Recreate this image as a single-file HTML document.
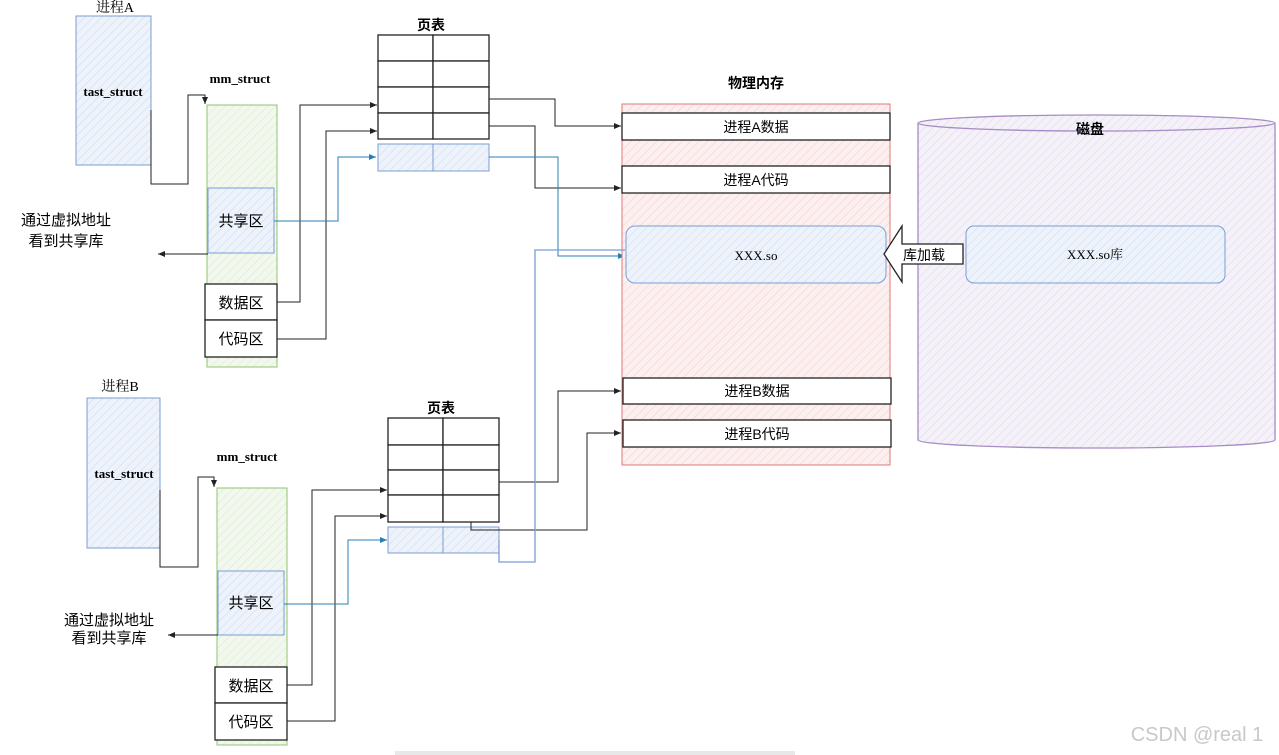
<!DOCTYPE html>
<html><head><meta charset="utf-8"><style>
html,body{margin:0;padding:0;background:#fff;}
svg{display:block;}
text{font-family:"Liberation Sans","Noto Sans CJK SC",sans-serif;}
.serif{font-family:"Liberation Serif","Noto Serif CJK SC",serif;}
</style></head><body>
<svg width="1279" height="755" viewBox="0 0 1279 755" xmlns="http://www.w3.org/2000/svg">
<defs>
<pattern id="hb" width="6" height="6" patternUnits="userSpaceOnUse" patternTransform="rotate(45)"><rect width="6" height="6" fill="#eef3fb"/><line x1="0" y1="0" x2="0" y2="6" stroke="#c9d8ef" stroke-width="1"/></pattern>
<pattern id="hg" width="6" height="6" patternUnits="userSpaceOnUse" patternTransform="rotate(45)"><rect width="6" height="6" fill="#f3f8ef"/><line x1="0" y1="0" x2="0" y2="6" stroke="#d6e8cb" stroke-width="1"/></pattern>
<pattern id="hr" width="6" height="6" patternUnits="userSpaceOnUse" patternTransform="rotate(45)"><rect width="6" height="6" fill="#fcefef"/><line x1="0" y1="0" x2="0" y2="6" stroke="#f5cccc" stroke-width="1"/></pattern>
<pattern id="hp" width="6" height="6" patternUnits="userSpaceOnUse" patternTransform="rotate(45)"><rect width="6" height="6" fill="#f4f1f8"/><line x1="0" y1="0" x2="0" y2="6" stroke="#ddd5ea" stroke-width="1"/></pattern>
<marker id="ak" markerWidth="8" markerHeight="8" refX="7" refY="4" orient="auto" markerUnits="userSpaceOnUse"><path d="M0,1 L7,4 L0,7 z" fill="#222"/></marker>
<marker id="ab" markerWidth="8" markerHeight="8" refX="7" refY="4" orient="auto" markerUnits="userSpaceOnUse"><path d="M0,1 L7,4 L0,7 z" fill="#2a7fb0"/></marker>
</defs>

<!-- Process A -->
<text x="115" y="12" font-size="14" text-anchor="middle" class="serif">进程A</text>
<rect x="76" y="16" width="75" height="149" fill="url(#hb)" stroke="#7a9dd4"/>
<text x="113" y="96" font-size="13" font-weight="bold" text-anchor="middle" class="serif">tast_struct</text>
<path d="M151,110 V184 H188 V95 H205 V104" fill="none" stroke="#222" marker-end="url(#ak)"/>
<text x="240" y="83" font-size="13" font-weight="bold" text-anchor="middle" class="serif">mm_struct</text>
<rect x="207" y="105" width="70" height="262" fill="url(#hg)" stroke="#8cc46e"/>
<rect x="208" y="188" width="66" height="65" fill="url(#hb)" stroke="#7a9dd4"/>
<text x="241" y="226" font-size="15" text-anchor="middle">共享区</text>
<rect x="205" y="284" width="72" height="36" fill="#fff" stroke="#222" stroke-width="1.3"/>
<text x="241" y="308" font-size="15" text-anchor="middle">数据区</text>
<rect x="205" y="320" width="72" height="37" fill="#fff" stroke="#222" stroke-width="1.3"/>
<text x="241" y="344" font-size="15" text-anchor="middle">代码区</text>
<text x="66" y="225" font-size="15" text-anchor="middle">通过虚拟地址</text>
<text x="66" y="246" font-size="15" text-anchor="middle">看到共享库</text>
<path d="M208,254 H158" fill="none" stroke="#222" marker-end="url(#ak)"/>

<!-- Page table A -->
<text x="431" y="30" font-size="14" font-weight="bold" text-anchor="middle">页表</text>
<g fill="#fff" stroke="#222" stroke-width="1.3">
<rect x="378" y="35" width="55" height="26"/><rect x="433" y="35" width="56" height="26"/>
<rect x="378" y="61" width="55" height="26"/><rect x="433" y="61" width="56" height="26"/>
<rect x="378" y="87" width="55" height="26"/><rect x="433" y="87" width="56" height="26"/>
<rect x="378" y="113" width="55" height="26"/><rect x="433" y="113" width="56" height="26"/>
</g>
<rect x="378" y="144" width="55" height="27" fill="url(#hb)" stroke="#7a9dd4"/>
<rect x="433" y="144" width="56" height="27" fill="url(#hb)" stroke="#7a9dd4"/>
<path d="M277,302 H300 V105 H377" fill="none" stroke="#222" marker-end="url(#ak)"/>
<path d="M277,339 H326 V131 H377" fill="none" stroke="#222" marker-end="url(#ak)"/>
<path d="M274,221 H338 V157 H376" fill="none" stroke="#2a7fb0" marker-end="url(#ab)"/>
<path d="M489,99 H555 V126 H621" fill="none" stroke="#222" marker-end="url(#ak)"/>
<path d="M489,126 H535 V188 H621" fill="none" stroke="#222" marker-end="url(#ak)"/>
<path d="M489,157 H558 V256 H625" fill="none" stroke="#2a7fb0" marker-end="url(#ab)"/>

<!-- Physical memory -->
<text x="756" y="88" font-size="14" font-weight="bold" text-anchor="middle">物理内存</text>
<rect x="622" y="104" width="268" height="361" fill="url(#hr)" stroke="#e07a7a"/>
<rect x="622" y="113" width="268" height="27" fill="#fff" stroke="#222" stroke-width="1.3"/>
<text x="756" y="132" font-size="14" text-anchor="middle">进程A数据</text>
<rect x="622" y="166" width="268" height="27" fill="#fff" stroke="#222" stroke-width="1.3"/>
<text x="756" y="185" font-size="14" text-anchor="middle">进程A代码</text>
<rect x="626" y="226" width="260" height="57" rx="9" fill="url(#hb)" stroke="#7a9dd4"/>
<text x="756" y="260" font-size="13" text-anchor="middle" class="serif">XXX.so</text>
<rect x="623" y="378" width="268" height="26" fill="#fff" stroke="#222" stroke-width="1.3"/>
<text x="757" y="396" font-size="14" text-anchor="middle">进程B数据</text>
<rect x="623" y="420" width="268" height="27" fill="#fff" stroke="#222" stroke-width="1.3"/>
<text x="757" y="439" font-size="14" text-anchor="middle">进程B代码</text>

<!-- Disk -->
<path d="M918,123 V440 A178.5,8 0 0 0 1275,440 V123" fill="url(#hp)" stroke="#a88bc4" stroke-width="1.3"/>
<ellipse cx="1096.5" cy="123" rx="178.5" ry="8" fill="url(#hp)" stroke="#a88bc4" stroke-width="1.3"/>
<text x="1090" y="134" font-size="14" font-weight="bold" text-anchor="middle">磁盘</text>
<rect x="966" y="226" width="259" height="57" rx="8" fill="url(#hb)" stroke="#7a9dd4"/>
<text x="1095" y="259" font-size="13" text-anchor="middle" class="serif">XXX.so库</text>
<path d="M884,254 L902,226 V244 H963 V264 H902 V282 Z" fill="#fff" stroke="#222" stroke-width="1.3"/>
<text x="924" y="260" font-size="14" text-anchor="middle">库加载</text>

<!-- Process B -->
<text x="120" y="391" font-size="14" text-anchor="middle" class="serif">进程B</text>
<rect x="87" y="398" width="73" height="150" fill="url(#hb)" stroke="#7a9dd4"/>
<text x="124" y="478" font-size="13" font-weight="bold" text-anchor="middle" class="serif">tast_struct</text>
<path d="M160,490 V567 H198 V477 H214 V487" fill="none" stroke="#222" marker-end="url(#ak)"/>
<text x="247" y="461" font-size="13" font-weight="bold" text-anchor="middle" class="serif">mm_struct</text>
<rect x="217" y="488" width="70" height="257" fill="url(#hg)" stroke="#8cc46e"/>
<rect x="218" y="571" width="66" height="64" fill="url(#hb)" stroke="#7a9dd4"/>
<text x="251" y="608" font-size="15" text-anchor="middle">共享区</text>
<rect x="215" y="667" width="72" height="36" fill="#fff" stroke="#222" stroke-width="1.3"/>
<text x="251" y="691" font-size="15" text-anchor="middle">数据区</text>
<rect x="215" y="703" width="72" height="37" fill="#fff" stroke="#222" stroke-width="1.3"/>
<text x="251" y="727" font-size="15" text-anchor="middle">代码区</text>
<text x="109" y="625" font-size="15" text-anchor="middle">通过虚拟地址</text>
<text x="109" y="643" font-size="15" text-anchor="middle">看到共享库</text>
<path d="M218,635 H168" fill="none" stroke="#222" marker-end="url(#ak)"/>

<!-- Page table B -->
<text x="441" y="413" font-size="14" font-weight="bold" text-anchor="middle">页表</text>
<g fill="#fff" stroke="#222" stroke-width="1.3">
<rect x="388" y="418" width="55" height="27"/><rect x="443" y="418" width="56" height="27"/>
<rect x="388" y="445" width="55" height="25"/><rect x="443" y="445" width="56" height="25"/>
<rect x="388" y="470" width="55" height="25"/><rect x="443" y="470" width="56" height="25"/>
<rect x="388" y="495" width="55" height="27"/><rect x="443" y="495" width="56" height="27"/>
</g>
<rect x="388" y="527" width="55" height="26" fill="url(#hb)" stroke="#7a9dd4"/>
<rect x="443" y="527" width="56" height="26" fill="url(#hb)" stroke="#7a9dd4"/>
<path d="M287,685 H312 V490 H387" fill="none" stroke="#222" marker-end="url(#ak)"/>
<path d="M287,721 H335 V516 H387" fill="none" stroke="#222" marker-end="url(#ak)"/>
<path d="M284,604 H348 V540 H387" fill="none" stroke="#2a7fb0" marker-end="url(#ab)"/>
<path d="M499,482 H558 V391 H621" fill="none" stroke="#222" marker-end="url(#ak)"/>
<path d="M471,522 V530 H587 V433 H621" fill="none" stroke="#222" marker-end="url(#ak)"/>
<path d="M499,540 V562 H535 V250 H625" fill="none" stroke="#7a9dd4" stroke-width="1.3"/>

<!-- watermark -->
<text x="1197" y="741" font-size="20" fill="#c8c8c8" text-anchor="middle">CSDN @real 1</text>
<rect x="395" y="751" width="400" height="4" fill="#e8e8e8"/>
</svg>
</body></html>
